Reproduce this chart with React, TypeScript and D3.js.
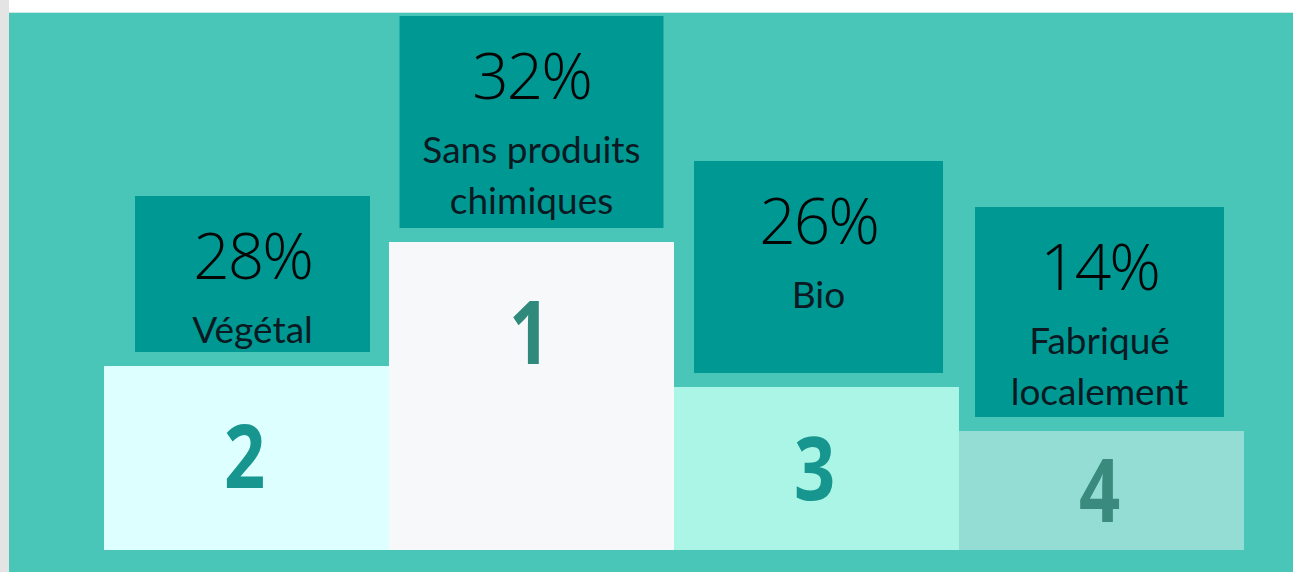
import React from "react";
import * as d3 from "d3";

// ---- data ----
const categories = ["Végétal", "Sans produits chimiques", "Bio", "Fabriqué localement"];
const labelLines = [["Végétal"], ["Sans produits", "chimiques"], ["Bio"], ["Fabriqué", "localement"]];
const percentages = [28, 32, 26, 14];
const ranks = [2, 1, 3, 4];

// ---- layout / style constants ----
const W = 1293;
const H = 572;
const podiumLeft = 104;
const podiumRight = 1244;
const podiumBottom = 550;
const boxHeights = [156, 212, 212, 210];
const boxWidths = [235, 264, 249, 249];
const boxCenterShift = [6, 0, 2, -2];
const blockColors = ["#DEFFFF", "#F7F8FA", "#AAF5E6", "#93DDD5"];
const rankColors = ["#17968F", "#2F8A7C", "#17968F", "#3A8A7D"];

export default function App() {
  const x = d3.scaleBand<string>().domain(categories).range([podiumLeft, podiumRight]).padding(0);
  // podium height by rank (rank 1 tallest)
  const rankHeight = d3.scaleLinear().domain([1, 2, 3, 4]).range([308, 184, 163, 119]);

  return (
    <svg
      width={W}
      height={H}
      style={{ position: "absolute", left: 0, top: 0, display: "block" }}
    >
      <rect x={0} y={0} width={W} height={H} fill="#ffffff" />
      <rect x={0} y={0} width={9} height={H} fill="#E4E4E4" />
      <rect x={9} y={12} width={W - 9} height={H - 12} fill="#4AC6B8" />
      <line x1={9} x2={W} y1={12.5} y2={12.5} stroke="#CDE9E5" strokeWidth={1} />
      {categories.map((c, i) => {
        const bx = x(c)!;
        const bw = x.bandwidth();
        const h = rankHeight(ranks[i]);
        const top = podiumBottom - h;
        const cx = bx + bw / 2;
        const boxBottom = top - 14;
        const boxTop = Math.max(boxBottom - boxHeights[i], 12);
        const boxW = boxWidths[i];
        const boxCx = cx + boxCenterShift[i];
        const numCenter = Math.min((top + podiumBottom) / 2, top + 90);
        return (
          <g key={c}>
            <rect x={bx} y={top} width={bw} height={h} fill={blockColors[i]} />
            <text
              transform={`translate(${cx - 2},${numCenter}) scale(0.82,1)`}
              dy="0.36em"
              textAnchor="middle"
              fontFamily="'Open Sans', sans-serif"
              fontWeight={700}
              fontSize={88}
              fill={rankColors[i]}
            >
              {ranks[i]}
            </text>
            <rect x={boxCx - boxW / 2} y={boxTop} width={boxW} height={boxBottom - boxTop} fill="#009893" />
            <text
              x={boxCx}
              y={boxTop + 83}
              textAnchor="middle"
              fontFamily="'Open Sans', sans-serif"
              fontWeight={300}
              fontSize={64}
              letterSpacing={-2}
              fill="#050505"
            >
              {percentages[i]}%
            </text>
            {labelLines[i].map((ln, j) => (
              <text
                key={j}
                x={boxCx}
                y={boxTop + 147 + j * 51}
                textAnchor="middle"
                fontFamily="Lato, sans-serif"
                fontSize={37}
                fill="#0b1a22"
              >
                {ln}
              </text>
            ))}
          </g>
        );
      })}
    </svg>
  );
}
